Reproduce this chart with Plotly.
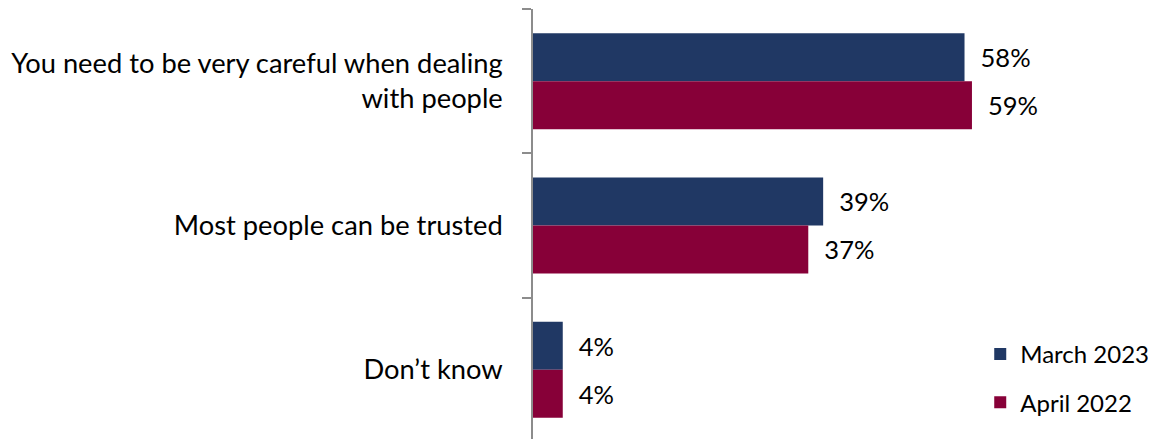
import plotly.graph_objects as go

categories = ["You need to be very careful when dealing<br>with people",
              "Most people can be trusted",
              "Don’t know"]
march_2023 = [58, 39, 4]
april_2022 = [59, 37, 4]
series_names = ["March 2023", "April 2022"]
colors = ["#203864", "#870038"]

FONT = "Lato"
fig = go.Figure()
for i, (name, vals, col) in enumerate(zip(series_names, [march_2023, april_2022], colors)):
    fig.add_trace(go.Bar(
        y=categories, x=vals, name=name, orientation="h",
        legendgroup=f"g{i}",
        marker=dict(color=col, line=dict(width=0)),
        text=[f"{v}%" for v in vals],
        texttemplate="  %{text}",
        textposition="outside",
        textfont=dict(size=25.5, color="#000000", family=FONT),
        cliponaxis=False,
    ))

# the page body adds an 8px offset, so the figure is sized/shifted accordingly
fig.update_layout(
    width=1148, height=432,
    margin=dict(l=525, r=65, t=1, b=1, autoexpand=False),
    paper_bgcolor="white", plot_bgcolor="white",
    barmode="group", bargap=0.335, bargroupgap=0,
    font=dict(family=FONT, size=25, color="#000000"),
    showlegend=True,
    legend=dict(x=0.8015, y=0.249, xanchor="left", yanchor="top",
                font=dict(size=24, family=FONT, color="#000000"),
                traceorder="grouped", tracegroupgap=14,
                bgcolor="rgba(0,0,0,0)"),
    xaxis=dict(range=[0, 75], visible=False, showgrid=False, zeroline=False,
               automargin=False),
    yaxis=dict(categoryorder="array", categoryarray=categories,
               range=[2.48, -0.5], showline=True, linecolor="#8c8c8c",
               linewidth=1.5, ticks="outside", tickson="boundaries",
               ticklen=9, tickcolor="#8c8c8c", tickwidth=1.5,
               showgrid=False, zeroline=False, ticklabelstandoff=23,
               automargin=False,
               tickfont=dict(size=27.3, family=FONT, color="#000000")),
)
fig.write_html("out.html")
